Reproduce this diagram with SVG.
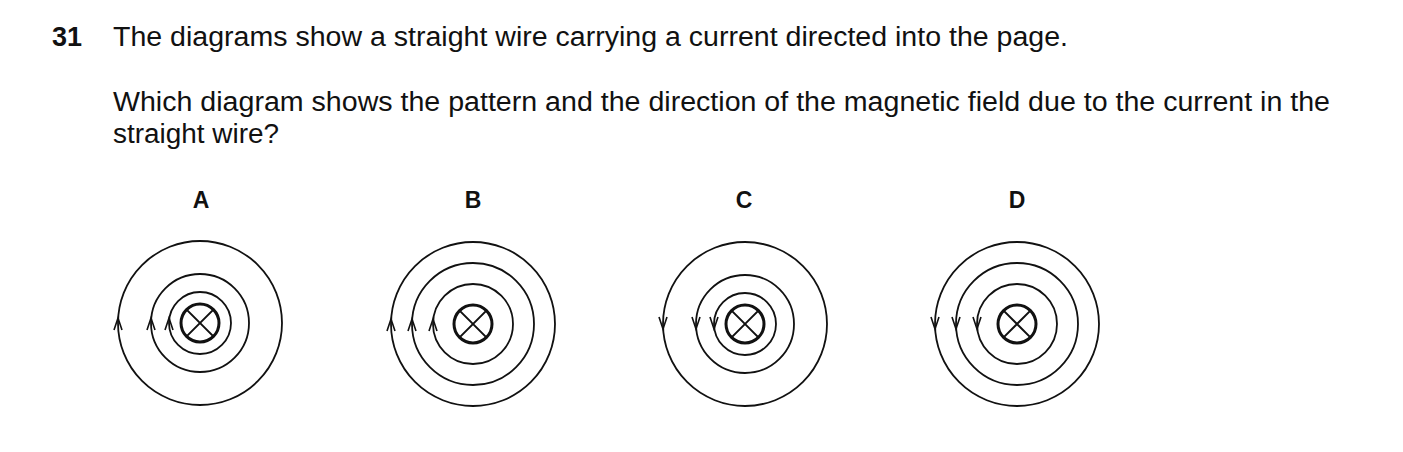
<svg xmlns="http://www.w3.org/2000/svg" width="1403" height="452" viewBox="0 0 1403 452">
<style>
text{font-family:"Liberation Sans",Arial,sans-serif;fill:#111}
.t{font-size:27px}
.l{font-size:23px;font-weight:bold;text-anchor:middle}
.c{fill:none;stroke:#111;stroke-width:1.8}
.w{fill:none;stroke:#111;stroke-width:3}
.x{stroke:#111;stroke-width:2}
.a{fill:none;stroke:#111;stroke-width:1.6}
</style>
<rect width="1403" height="452" fill="#fff"/>
<text class="t" x="52" y="46" font-weight="bold">31</text>
<text class="t" x="113" y="46" textLength="955" lengthAdjust="spacingAndGlyphs">The diagrams show a straight wire carrying a current directed into the page.</text>
<text class="t" x="113" y="111" textLength="1217" lengthAdjust="spacingAndGlyphs">Which diagram shows the pattern and the direction of the magnetic field due to the current in the</text>
<text class="t" x="113" y="143" textLength="166" lengthAdjust="spacingAndGlyphs">straight wire?</text>
<g id="A">
<text class="l" x="201" y="208">A</text>
<circle class="c" cx="200" cy="323" r="82"/><circle class="c" cx="200" cy="323" r="49"/><circle class="c" cx="200" cy="323" r="31"/>
<circle class="w" cx="200" cy="323" r="19"/>
<path class="x" d="M186.6 309.6L213.4 336.4M213.4 309.6L186.6 336.4"/>
<path class="a" d="M114 330L118 318L122 330M147 330L151 318L155 330M165 330L169 318L173 330"/>
</g>
<g id="B">
<text class="l" x="473" y="208">B</text>
<circle class="c" cx="473" cy="324" r="82"/><circle class="c" cx="473" cy="324" r="61"/><circle class="c" cx="473" cy="324" r="40"/>
<circle class="w" cx="473" cy="324" r="19"/>
<path class="x" d="M459.6 310.6L486.4 337.4M486.4 310.6L459.6 337.4"/>
<path class="a" d="M387 331L391 319L395 331M408 331L412 319L416 331M429 331L433 319L437 331"/>
</g>
<g id="C">
<text class="l" x="744" y="208">C</text>
<circle class="c" cx="745" cy="324" r="82"/><circle class="c" cx="745" cy="324" r="49"/><circle class="c" cx="745" cy="324" r="31"/>
<circle class="w" cx="745" cy="324" r="19"/>
<path class="x" d="M731.6 310.6L758.4 337.4M758.4 310.6L731.6 337.4"/>
<path class="a" d="M659 317L663 329L667 317M692 317L696 329L700 317M710 317L714 329L718 317"/>
</g>
<g id="D">
<text class="l" x="1017" y="208">D</text>
<circle class="c" cx="1017" cy="324" r="82"/><circle class="c" cx="1017" cy="324" r="61"/><circle class="c" cx="1017" cy="324" r="40"/>
<circle class="w" cx="1017" cy="324" r="19"/>
<path class="x" d="M1003.6 310.6L1030.4 337.4M1030.4 310.6L1003.6 337.4"/>
<path class="a" d="M931 317L935 329L939 317M952 317L956 329L960 317M973 317L977 329L981 317"/>
</g>
</svg>
